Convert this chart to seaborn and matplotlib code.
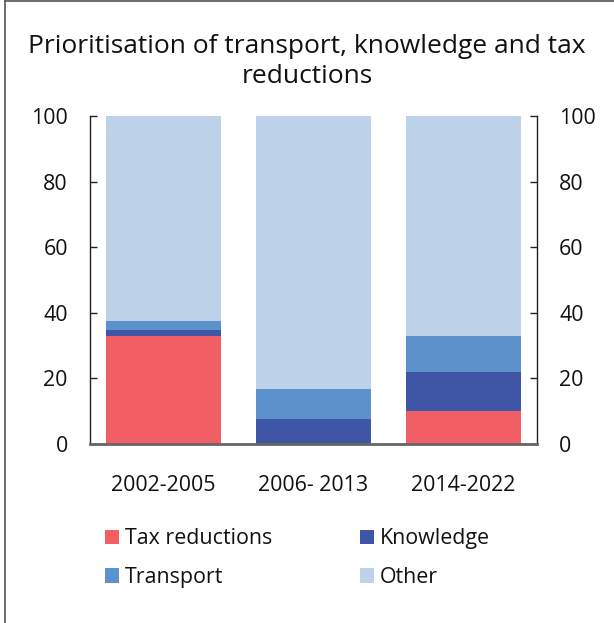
import matplotlib
matplotlib.use("Agg")
import matplotlib.pyplot as plt
import seaborn as sns
import pandas as pd
import numpy as np
from matplotlib.lines import Line2D
from matplotlib.patches import Patch

periods = ["2002-2005", "2006- 2013", "2014-2022"]
tax_reductions = [33.0, 0.0, 10.2]
knowledge = [1.8, 7.5, 11.7]
transport = [2.6, 9.4, 11.1]
other = [62.6, 83.1, 67.0]

series_names = ["Tax reductions", "Knowledge", "Transport", "Other"]
colors = ["#f15e64", "#3f55a5", "#5b92cc", "#bed3ea"]

sns.set_theme(style="white")
plt.rcParams["font.family"] = ["Open Sans", "DejaVu Sans"]

df = pd.DataFrame({
    "period": periods,
    "Tax reductions": tax_reductions,
    "Knowledge": knowledge,
    "Transport": transport,
    "Other": other,
})
cum = df[series_names].cumsum(axis=1)
cum["period"] = df["period"]

fig = plt.figure(figsize=(6.14, 6.23), dpi=100)
ax = fig.add_axes([90 / 614, 1 - 444 / 623, (537 - 90) / 614, (444 - 116) / 623])

for name, col in reversed(list(zip(series_names, colors))):
    sns.barplot(data=cum, x="period", y=name, color=col, width=0.765,
                saturation=1, ax=ax, linewidth=0)

ax.set_xlim(-0.49, 2.49)
ax.set_ylim(0, 100)
ax.set_yticks([0, 20, 40, 60, 80, 100])
ax.set_xlabel("")
ax.set_ylabel("")

for s in ["left", "right"]:
    ax.spines[s].set_visible(True)
    ax.spines[s].set_color("#222222")
    ax.spines[s].set_linewidth(1.0)
ax.spines["top"].set_visible(False)
ax.spines["bottom"].set_color("#666666")
ax.spines["bottom"].set_linewidth(2.0)

ax.tick_params(axis="y", which="both", left=True, right=True, labelleft=True,
               labelright=True, direction="in", length=5, width=1,
               color="#222222", labelsize=15.4, pad=16, labelcolor="#111111")
ax.tick_params(axis="x", bottom=False, labelsize=15.4, pad=16, labelcolor="#111111")

fig.suptitle("Prioritisation of transport, knowledge and tax\nreductions",
             x=0.5, y=1 - 34 / 623, va="top", fontsize=19, color="#111111",
             linespacing=1.27)

order = [0, 2, 1, 3]
handles = [Patch(facecolor=colors[i], edgecolor="none") for i in order]
labels = [series_names[i] for i in order]
fig.legend(handles, labels, ncol=2, loc="upper left",
           bbox_to_anchor=(86 / 614, 1 - 509 / 623), frameon=False,
           fontsize=15.4, handlelength=0.65, handleheight=0.65,
           handletextpad=0.28, columnspacing=4.1, labelspacing=0.83,
           labelcolor="#111111")

fig.add_artist(Line2D([4.5 / 614, 4.5 / 614], [0, 1], transform=fig.transFigure,
                      color="#555555", linewidth=1.2))
fig.add_artist(Line2D([4.5 / 614, 1], [1 - 1 / 623, 1 - 1 / 623], transform=fig.transFigure,
                      color="#555555", linewidth=1.2))

fig.savefig("out.png", dpi=100)
